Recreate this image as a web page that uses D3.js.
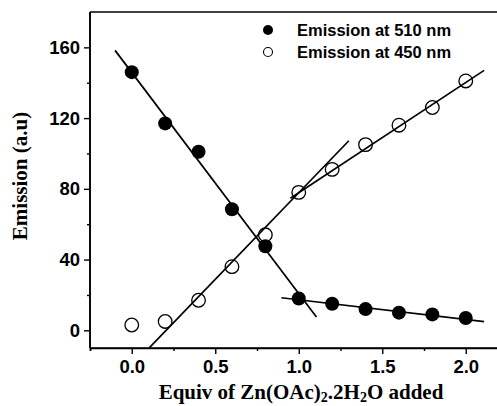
<!DOCTYPE html>
<html><head><meta charset="utf-8">
<script src="https://cdn.jsdelivr.net/npm/d3@7"></script>
<style>body{margin:0;background:#fff}svg{display:block}</style>
</head><body>
<svg id="c" width="497" height="406"></svg>
<script>
const equiv = [0.0, 0.2, 0.4, 0.6, 0.8, 1.0, 1.2, 1.4, 1.6, 1.8, 2.0];
const em510 = [146, 117, 101, 68.5, 47.5, 18, 15, 12, 10, 9, 7];
const em450 = [3, 5, 17, 36, 54, 78, 91, 105, 116, 126, 141];
const fit510a = [[-0.10, 158.3], [1.106, 7.5]];
const fit510b = [[0.896, 18.4], [2.11, 4.9]];
const fit450a = [[0.106, -9.8], [1.30, 107.2]];
const fit450b = [[0.95, 74.7], [2.11, 147]];
const xMajor = [0.0, 0.5, 1.0, 1.5, 2.0];
const xMinor = [-0.25, 0.25, 0.75, 1.25, 1.75];
const yMajor = [0, 40, 80, 120, 160];
const yMinor = [20, 60, 100, 140];
const legendLabels = ["Emission at 510 nm", "Emission at 450 nm"];

const svg = d3.select("#c");
const x = d3.scaleLinear().domain([-0.25, 2.25]).range([90, 507.5]);
const y = d3.scaleLinear().domain([-10, 180]).range([348, 12]);

// frame (top + left + bottom)
svg.append("line").attr("x1", x(-0.25)).attr("x2", 497).attr("y1", y(180)).attr("y2", y(180))
  .attr("stroke", "#000").attr("stroke-width", 1.6);

const gx = svg.append("g").attr("transform", `translate(0,${y(-10)})`);
gx.call(d3.axisBottom(x).tickValues(xMajor).tickFormat(d3.format(".1f")).tickSize(6).tickPadding(6));
gx.append("g").call(d3.axisBottom(x).tickValues(xMinor).tickFormat("").tickSize(3));
gx.selectAll(".domain").attr("stroke-width", 1.6);
gx.select(".domain").attr("d", `M${x(-0.25)},0H497`);

const gy = svg.append("g").attr("transform", `translate(${x(-0.25)},0)`);
gy.call(d3.axisLeft(y).tickValues(yMajor).tickSize(6).tickPadding(4));
gy.append("g").call(d3.axisLeft(y).tickValues(yMinor).tickFormat("").tickSize(3));
gy.selectAll(".domain").attr("stroke-width", 1.6);
gy.selectAll(".domain").attr("d", `M0,${y(-10)}V${y(180)}`);

svg.selectAll(".tick line").attr("stroke-width", 1.4);
svg.selectAll(".tick text").attr("font-family", "Liberation Sans, Arial, sans-serif")
  .attr("font-weight", "bold").attr("font-size", 18.5).attr("fill", "#000");

// axis titles
svg.append("text").attr("x", 301).attr("y", 399).attr("text-anchor", "middle")
  .attr("font-family", "Liberation Serif, Times New Roman, serif").attr("font-weight", "bold")
  .attr("font-size", 21)
  .html('Equiv of Zn(OAc)<tspan font-size="14" dy="3">2</tspan><tspan dy="-3">.2H</tspan><tspan font-size="14" dy="3">2</tspan><tspan dy="-3">O added</tspan>');
svg.append("text").attr("transform", "translate(27,176) rotate(-90)").attr("text-anchor", "middle")
  .attr("font-family", "Liberation Serif, Times New Roman, serif").attr("font-weight", "bold")
  .attr("font-size", 21).text("Emission (a.u)");

// fit lines
const line = d3.line().x(d => x(d[0])).y(d => y(d[1]));
[fit510a, fit510b, fit450a, fit450b].forEach(f => {
  svg.append("path").attr("d", line(f)).attr("fill", "none").attr("stroke", "#000").attr("stroke-width", 1.7);
});

// open circles
svg.selectAll("circle.o").data(equiv).enter().append("circle").attr("class", "o")
  .attr("cx", d => x(d)).attr("cy", (d, i) => y(em450[i])).attr("r", 6.8)
  .attr("fill", "none").attr("stroke", "#000").attr("stroke-width", 1.3);
// filled circles
svg.selectAll("circle.f").data(equiv).enter().append("circle").attr("class", "f")
  .attr("cx", d => x(d)).attr("cy", (d, i) => y(em510[i])).attr("r", 7)
  .attr("fill", "#000");

// legend
const lg = svg.append("g");
legendLabels.forEach((t, i) => {
  const cy = 30 + i * 22;
  lg.append("circle").attr("cx", 268).attr("cy", cy).attr("r", i === 0 ? 5 : 4.5)
    .attr("fill", i === 0 ? "#000" : "none").attr("stroke", "#000").attr("stroke-width", i === 0 ? 0 : 1.1);
  lg.append("text").attr("x", 297).attr("y", cy + 5.5)
    .attr("font-family", "Liberation Sans, Arial, sans-serif").attr("font-weight", "bold")
    .attr("font-size", 16.5).text(t);
});
</script>
</body></html>
